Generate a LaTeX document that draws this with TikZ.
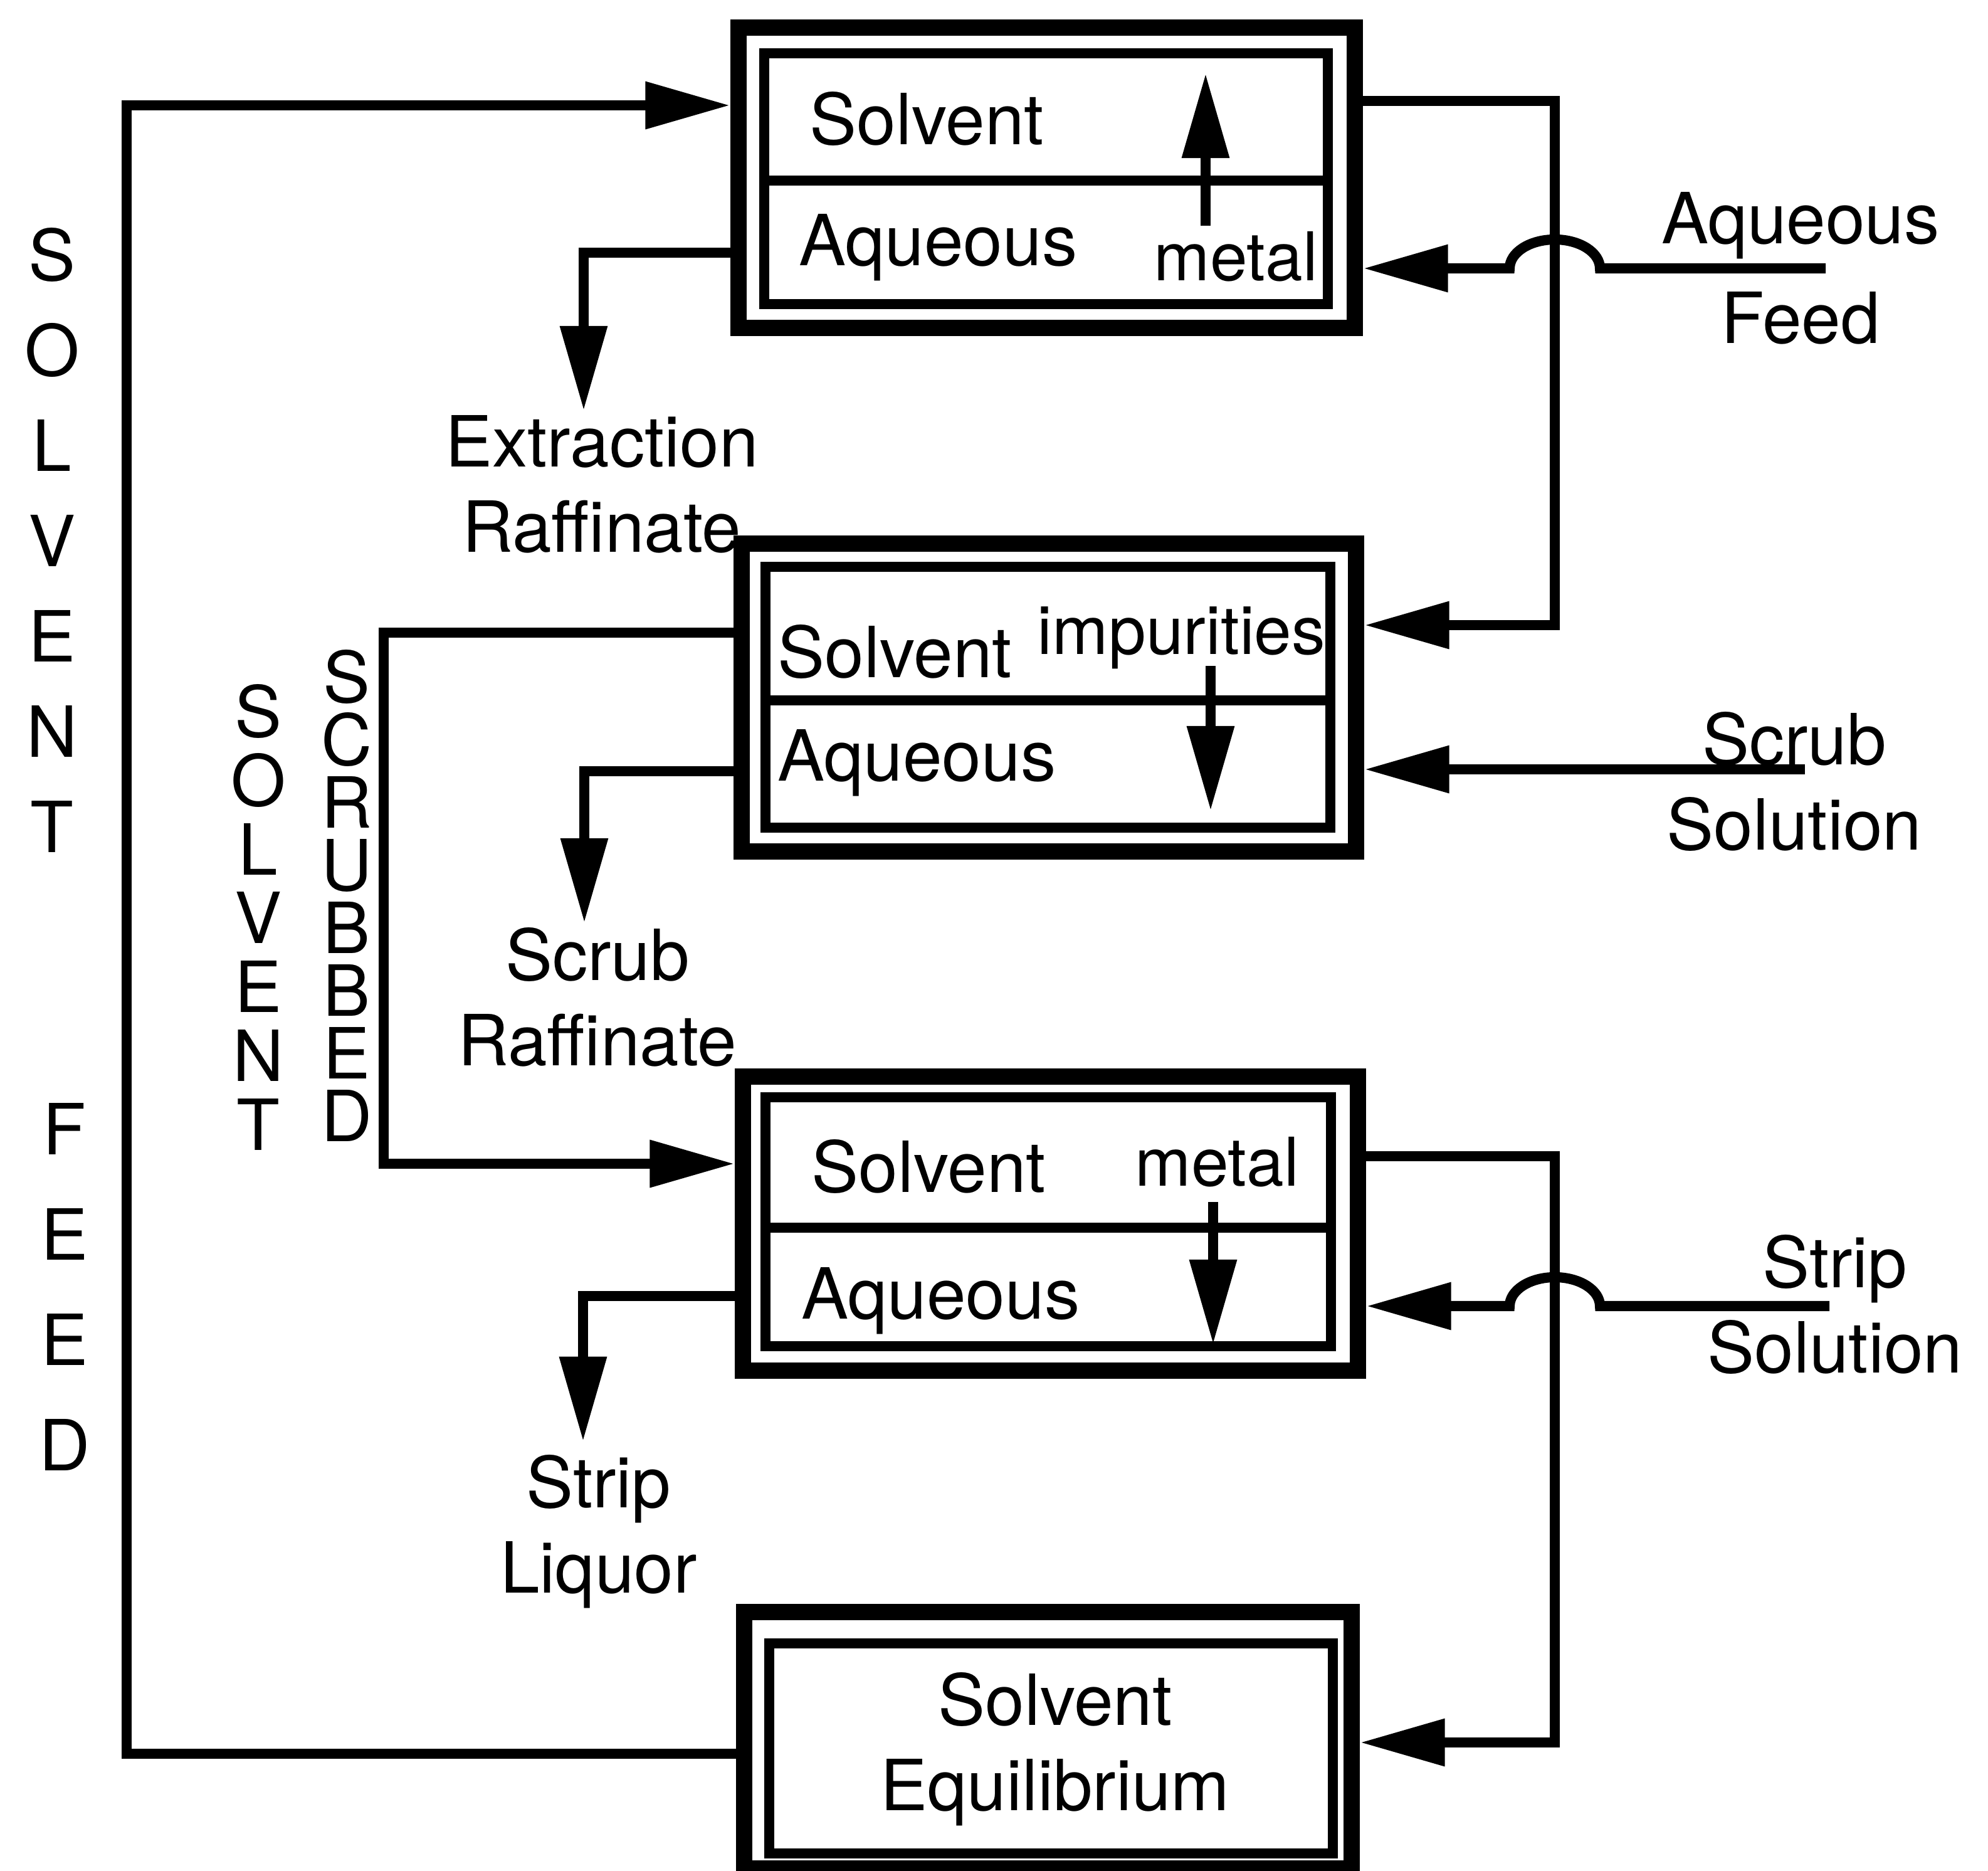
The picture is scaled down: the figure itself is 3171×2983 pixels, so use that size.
\documentclass[tikz,border=0pt]{standalone}
\usepackage{fontspec}
\setmainfont{TeX Gyre Heros}
\usetikzlibrary{arrows.meta}

\tikzset{
  stage/.style={draw,line width=7.5pt,inner sep=0pt},
  cell/.style={draw,line width=4.5pt,inner sep=0pt},
  flow/.style={line width=4.6pt},
  flowto/.style={-{Triangle[length=1.35cm,width=0.72cm]}},
  lbl/.style={font=\fontsize{32}{38.5}\selectfont,inner sep=0pt,align=center},
  smalltxt/.style={font=\fontsize{30.5}{36}\selectfont},
}

\begin{document}
\begin{tikzpicture}[x=0.01cm,y=-0.01cm]
  \useasboundingbox (0,0) rectangle (3171,2983);
  % extraction stage
  \node[stage,minimum width=9.83cm,minimum height=4.79cm] (ext) at (1669.5,283.5) {};
  \node[cell,minimum width=8.99cm,minimum height=2.03cm] (ext-s) at (1668.5,186.5) {};
  \node[cell,minimum width=8.99cm,minimum height=1.97cm] (ext-a) at (1668.5,386.5) {};
  \node[lbl,anchor=base west] (ext-sol) at (1291,230) {Solvent};
  \node[lbl,anchor=base west] (ext-aq) at (1274,423) {Aqueous};
  \node[lbl,smalltxt,anchor=base west] (ext-met) at (1840,447) {metal};
  \draw[flow,flowto] (1923,360) -- (1923,117);
  % scrub stage
  \node[stage,minimum width=9.80cm,minimum height=4.91cm] (scr) at (1673,1112.5) {};
  \node[cell,minimum width=9.01cm,minimum height=2.13cm] (scr-s) at (1671.5,1010.5) {};
  \node[cell,minimum width=9.01cm,minimum height=2.03cm] (scr-a) at (1671.5,1218.5) {};
  \node[lbl,anchor=base west] (scr-sol) at (1240,1080) {Solvent};
  \node[lbl,smalltxt,anchor=base west] (scr-imp) at (1654,1043) {impurities};
  \node[lbl,anchor=base west] (scr-aq) at (1240,1245) {Aqueous};
  \draw[flow,flowto] (1931,1062) -- (1931,1293);
  % strip stage
  \node[stage,minimum width=9.81cm,minimum height=4.69cm] (str) at (1675.5,1951.5) {};
  \node[cell,minimum width=9.02cm,minimum height=2.08cm] (str-s) at (1672,1854) {};
  \node[cell,minimum width=9.02cm,minimum height=1.89cm] (str-a) at (1672,2052.5) {};
  \node[lbl,anchor=base west] (str-sol) at (1294,1901) {Solvent};
  \node[lbl,smalltxt,anchor=base west] (str-met) at (1810,1891) {metal};
  \node[lbl,anchor=base west] (str-aq) at (1278,2103) {Aqueous};
  \draw[flow,flowto] (1935,1917) -- (1935,2144);
  % solvent equilibrium
  \node[stage,minimum width=9.69cm,minimum height=4.09cm] (eq) at (1671.5,2775.5) {};
  \node[cell,minimum width=8.99cm,minimum height=3.35cm] (eq-in) at (1676.5,2788.5) {};
  \node[lbl,anchor=base] (eq-txt) at (1683,2887) {Solvent\\Equilibrium};

  % solvent feed loop
  \coordinate (fd-top) at (202,168);
  \coordinate (fd-bot) at (202,2797);
  \draw[flow,flowto] (eq.west |- fd-bot) -- (fd-bot) -- (fd-top) -- (ext.west |- fd-top);
  \node[lbl,anchor=base,font=\fontsize{32}{43.2}\selectfont] (solv) at (83,1359) {S\\O\\L\\V\\E\\N\\T};
  \node[lbl,anchor=base,font=\fontsize{32}{47.7}\selectfont] (feed) at (103,2345) {F\\E\\E\\D};

  % raffinates and liquor
  \node[lbl,anchor=base] (xraf) at (960,880) {Extraction\\Raffinate};
  \coordinate (xr) at (931,403);
  \draw[flow,flowto,shorten >=2pt] (ext.west |- xr) -- (xr) -- (xr |- xraf.north);
  \node[lbl,anchor=base] (sraf) at (953,1699) {Scrub\\Raffinate};
  \coordinate (sr) at (932,1230);
  \draw[flow,flowto,shorten >=2pt] (scr.west |- sr) -- (sr) -- (sr |- sraf.north);
  \node[lbl,anchor=base] (liq) at (955,2540) {Strip\\Liquor};
  \coordinate (sl) at (930,2067);
  \draw[flow,flowto,shorten >=6pt] (str.west |- sl) -- (sl) -- (sl |- liq.north);

  % scrubbed solvent
  \coordinate (ss-top) at (612,1009);
  \coordinate (ss-bot) at (612,1856);
  \draw[flow,flowto] (scr.west |- ss-top) -- (ss-top) -- (ss-bot) -- (str.west |- ss-bot);
  \node[lbl,anchor=base,font=\fontsize{32}{31.2}\selectfont] (solv2) at (412,1834) {S\\O\\L\\V\\E\\N\\T};
  \node[lbl,anchor=base,font=\fontsize{32}{28.4}\selectfont] (scrb) at (553,1820) {S\\C\\R\\U\\B\\B\\E\\D};

  % loaded solvent to scrub, stripped solvent to equilibrium
  \coordinate (lo-top) at (2480,161);
  \coordinate (lo-bot) at (2480,997);
  \draw[flow,flowto] (ext.east |- lo-top) -- (lo-top) -- (lo-bot) -- (scr.east |- lo-bot);
  \coordinate (so-top) at (2480,1844);
  \coordinate (so-bot) at (2480,2779);
  \draw[flow,flowto] (str.east |- so-top) -- (so-top) -- (so-bot) -- (eq.east |- so-bot);

  % aqueous inlets
  \node[lbl,anchor=base] (aqf) at (2872,547) {Aqueous\\[6.7pt]Feed};
  \coordinate (aqf-end) at (2912,428);
  \draw[flow,flowto] (aqf-end) -- ([xshift=0.72cm]lo-top |- aqf-end)
    arc[start angle=0,end angle=180,x radius=0.72cm,y radius=0.46cm] -- (ext.east |- aqf-end);
  \node[lbl,anchor=base] (scs) at (2862,1355) {Scrub\\Solution};
  \coordinate (scs-end) at (2879,1227);
  \draw[flow,flowto] (scs-end) -- (scr.east |- scs-end);
  \node[lbl,anchor=base] (sts) at (2927,2189) {Strip\\Solution};
  \coordinate (sts-end) at (2918,2083);
  \draw[flow,flowto] (sts-end) -- ([xshift=0.72cm]so-top |- sts-end)
    arc[start angle=0,end angle=180,x radius=0.72cm,y radius=0.46cm] -- (str.east |- sts-end);
\end{tikzpicture}
\end{document}
